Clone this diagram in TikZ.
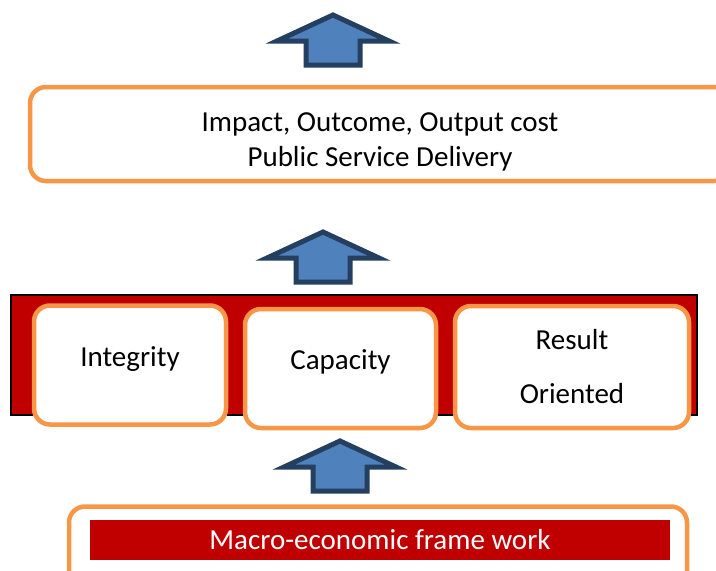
\documentclass[tikz,border=0pt]{standalone}
\usepackage{fontspec}
\setmainfont{Carlito}
\usepackage{tikz}
\usetikzlibrary{positioning}
\definecolor{boxorange}{HTML}{F79646}
\definecolor{bandred}{HTML}{C00000}
\definecolor{arrowfill}{HTML}{4F81BD}
\definecolor{arrowline}{HTML}{243F60}
\tikzset{
  roundbox/.style={rectangle, rounded corners=16pt, draw=boxorange, line width=4.5pt, fill=white, align=center, font=\fontsize{29}{35}\selectfont},
  boxtext/.style={font=\fontsize{29}{35}\selectfont, align=center},
  band/.style={draw=black, line width=1.5pt, fill=bandred},
  redbar/.style={fill=bandred, text=white, font=\fontsize{29}{35}\selectfont},
  blockarrow/.style={draw=arrowline, fill=arrowfill, line width=5pt, line join=miter},
}
\begin{document}
\begin{tikzpicture}[x=1pt, y=-1pt]
\useasboundingbox (0,0) rectangle (716,571);

%Arrows
\foreach \tipx/\tipy in {333/15, 323/232, 340/441}
  \draw[blockarrow] (\tipx,\tipy) -- ++(56,26) -- ++(-29,0) -- ++(0,24) -- ++(-54,0) -- ++(0,-24) -- ++(-29,0) -- cycle;

%Top box
\node[roundbox, minimum width=700pt, minimum height=94pt, label={[boxtext, yshift=-8pt]center:Impact, Outcome, Output cost\\Public Service Delivery}] (outcome) at (380,134) {};

%Red band with three boxes
\node[band, minimum width=686pt, minimum height=120pt] (band) at (354,355) {};
\node[roundbox, minimum width=192pt, minimum height=119pt, label={[boxtext, yshift=6pt]center:Integrity}] (integrity) at (130,365) {};
\node[roundbox, minimum width=191pt, minimum height=119pt, label={[boxtext, yshift=7pt]center:Capacity}] (capacity) at (340.5,368.5) {};
\node[roundbox, minimum width=234pt, minimum height=122pt] (result) at (572,367) {Result\\[19pt]Oriented};

%Bottom box
\node[roundbox, minimum width=618pt, minimum height=83pt] (base) at (378,548) {};
\node[redbar, minimum width=580pt, minimum height=40pt] (macro) at (380,540) {Macro-economic frame work};
\end{tikzpicture}
\end{document}
